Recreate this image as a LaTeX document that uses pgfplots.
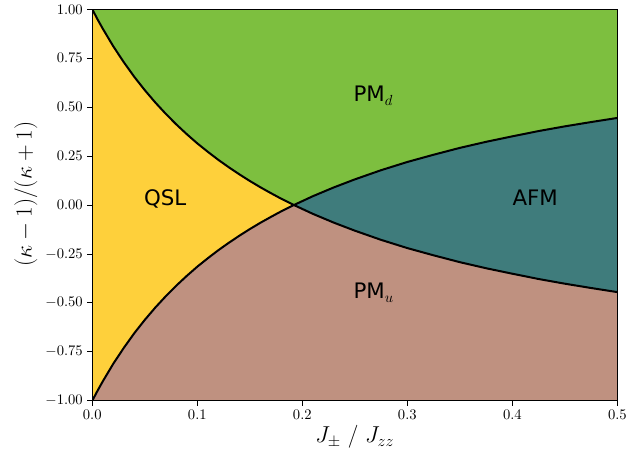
\documentclass[border=0pt]{standalone}
\usepackage{fontspec}
\newfontfamily\dejavu{DejaVu Sans}
\usepackage{pgfplots}
\pgfplotsset{compat=1.18}
\usepgfplotslibrary{fillbetween}

\definecolor{pmd}{HTML}{7DBF3F}
\definecolor{qsl}{HTML}{FED03B}
\definecolor{afm}{HTML}{3F7C7C}
\definecolor{pmu}{HTML}{BF9180}

\tikzset{phase/.style={anchor=base west, inner sep=0pt, font=\dejavu\fontsize{16}{19}\selectfont}}

% upper and lower phase boundaries
\pgfplotstableread{
x      y
0      1.000
0.005  0.949
0.01   0.901
0.02   0.811
0.03   0.730
0.04   0.655
0.05   0.587
0.06   0.524
0.07   0.466
0.08   0.412
0.09   0.362
0.10   0.315
0.11   0.272
0.12   0.231
0.13   0.193
0.14   0.157
0.15   0.123
0.16   0.091
0.17   0.061
0.18   0.032
0.192  0.000
0.21   0.045
0.23   0.090
0.25   0.131
0.275  0.178
0.30   0.220
0.325  0.257
0.35   0.292
0.375  0.323
0.40   0.351
0.425  0.378
0.45   0.402
0.475  0.424
0.50   0.445
}\upperdata

\pgfplotstableread{
x      y
0      -1.000
0.005  -0.949
0.01   -0.901
0.02   -0.811
0.03   -0.730
0.04   -0.655
0.05   -0.587
0.06   -0.524
0.07   -0.466
0.08   -0.412
0.09   -0.362
0.10   -0.315
0.11   -0.272
0.12   -0.231
0.13   -0.193
0.14   -0.157
0.15   -0.123
0.16   -0.091
0.17   -0.061
0.18   -0.032
0.192  0.000
0.21   -0.045
0.23   -0.090
0.25   -0.131
0.275  -0.178
0.30   -0.220
0.325  -0.257
0.35   -0.292
0.375  -0.323
0.40   -0.351
0.425  -0.378
0.45   -0.402
0.475  -0.424
0.50   -0.445
}\lowerdata

\begin{document}
\begin{tikzpicture}
\begin{axis}[
    width=393.75pt, height=293.5pt, scale only axis,
    xmin=0, xmax=0.5, ymin=-1, ymax=1,
    xtick={0,0.1,0.2,0.3,0.4,0.5},
    ytick={-1,-0.75,-0.5,-0.25,0,0.25,0.5,0.75,1},
    x tick label style={/pgf/number format/.cd, fixed, fixed zerofill, precision=1},
    y tick label style={/pgf/number format/.cd, fixed, fixed zerofill, precision=2},
    tick label style={font=\fontsize{11}{13}\selectfont},
    tick align=outside, xtick pos=left, ytick pos=left,
    major tick length=3.6pt,
    tick style={black, line width=0.6pt},
    axis line style={black, line width=0.6pt},
    axis on top,
    xlabel={$J_\pm\ /\ J_{zz}$},
    ylabel={$(\kappa-1)/(\kappa+1)$},
    label style={font=\fontsize{17}{20}\selectfont},
    xlabel style={at={(axis description cs:0.5,-0.108)}, anchor=base},
    ylabel style={at={(axis description cs:-0.1263,0.528)}, anchor=center},
]
\addplot[name path=U, draw=none] table {\upperdata};
\addplot[name path=L, draw=none] table {\lowerdata};
\addplot[name path=T, draw=none] coordinates {(0,1) (0.5,1)};
\addplot[name path=B, draw=none] coordinates {(0,-1) (0.5,-1)};

\addplot[pmd] fill between[of=T and U];
\addplot[pmu] fill between[of=L and B];
\addplot[qsl] fill between[of=U and L, soft clip={domain=0:0.192}];
\addplot[afm] fill between[of=U and L, soft clip={domain=0.192:0.5}];

\addplot[black, line width=1.5pt] table {\upperdata};
\addplot[black, line width=1.5pt] table {\lowerdata};

\node[phase] at (axis cs:0.049,0.0) {QSL};
\node[phase] at (axis cs:0.40,0.0) {AFM};
\node[phase] at (axis cs:0.2486,0.528) {PM$_d$};
\node[phase] at (axis cs:0.2486,-0.48) {PM$_u$};
\end{axis}
\path (current axis.south west) ++(-69.2pt,-37pt) coordinate (bb1);
\path (current axis.north east) ++(14pt,7pt) coordinate (bb2);
\path (bb1) rectangle (bb2);
\end{tikzpicture}
\end{document}
